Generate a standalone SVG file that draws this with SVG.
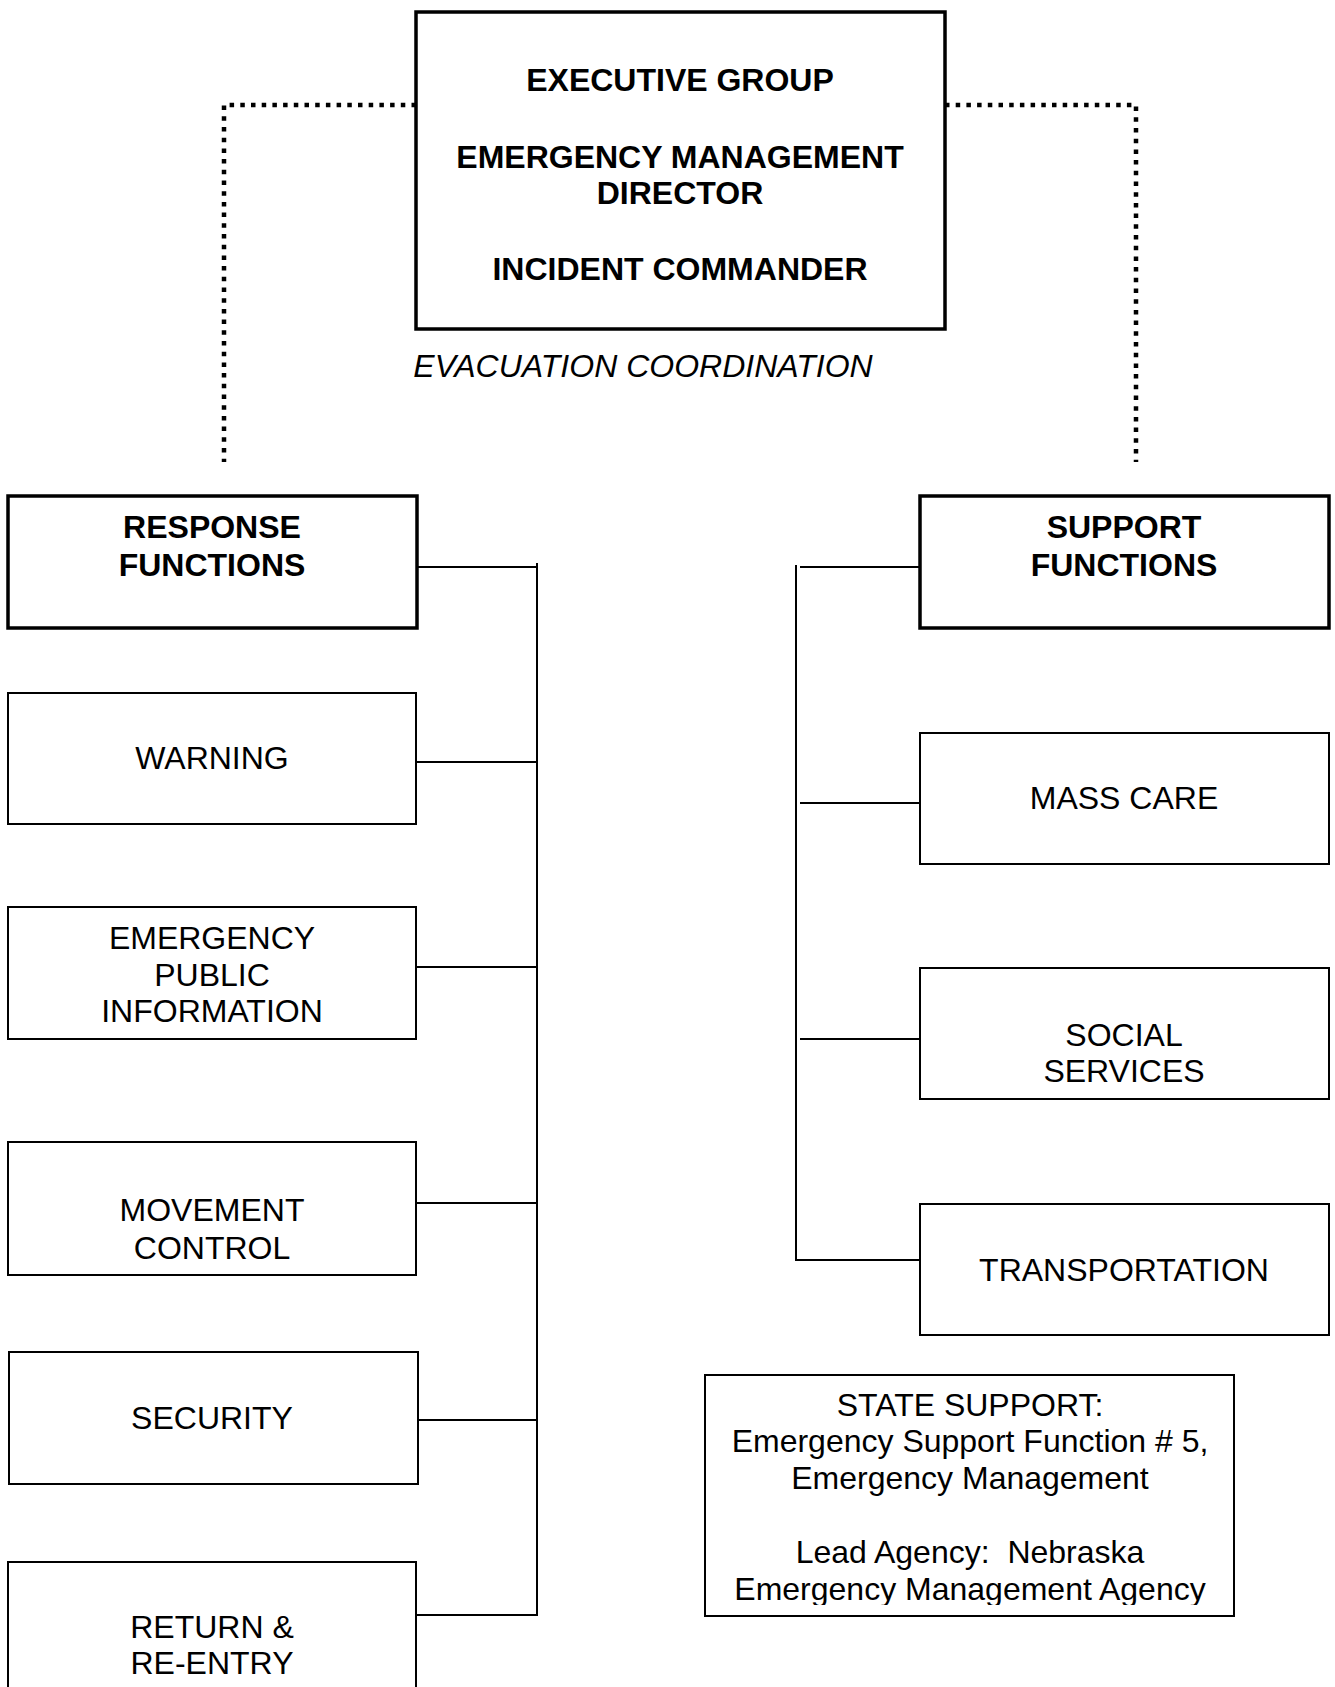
<svg xmlns="http://www.w3.org/2000/svg" width="1335" height="1687" viewBox="0 0 1335 1687">
  <style>
    text { font-family: "Liberation Sans", Arial, sans-serif; font-size: 32px; fill: #000; text-anchor: middle; white-space: pre; }
    .b { font-weight: bold; }
    .i { font-style: italic; }
    .head { fill: #fff; stroke: #000; stroke-width: 3.5; }
    .box { fill: #fff; stroke: #000; stroke-width: 2; }
    .link { fill: none; stroke: #000; stroke-width: 2; }
    .dot { fill: none; stroke: #000; stroke-width: 4.5; stroke-dasharray: 4.5 6.2; }
  </style>
  <defs>
    <clipPath id="stateClip">
      <rect x="700" y="1370" width="540" height="235"/>
    </clipPath>
  </defs>
  <rect width="1335" height="1687" fill="#fff"/>

  <!-- connectors -->
  <g id="connectors">
    <path class="dot" d="M416,105 H224 V462"/>
    <path class="dot" d="M945,105 H1136 V462"/>
    <!-- response branch -->
    <line class="link" x1="537" y1="563" x2="537" y2="1616"/>
    <line class="link" x1="417" y1="567" x2="537" y2="567"/>
    <line class="link" x1="416" y1="762" x2="537" y2="762"/>
    <line class="link" x1="416" y1="967" x2="537" y2="967"/>
    <line class="link" x1="416" y1="1203" x2="537" y2="1203"/>
    <line class="link" x1="418" y1="1420" x2="537" y2="1420"/>
    <line class="link" x1="416" y1="1615" x2="538" y2="1615"/>
    <!-- support branch -->
    <line class="link" x1="796" y1="565" x2="796" y2="1261"/>
    <line class="link" x1="800" y1="567" x2="920" y2="567"/>
    <line class="link" x1="800" y1="803" x2="920" y2="803"/>
    <line class="link" x1="800" y1="1039" x2="920" y2="1039"/>
    <line class="link" x1="795" y1="1260" x2="920" y2="1260"/>
  </g>

  <g id="executive">
    <rect class="head" x="416" y="12" width="529" height="317"/>
    <text class="b" x="680" y="91">EXECUTIVE GROUP</text>
    <text class="b" x="680" y="168">EMERGENCY MANAGEMENT</text>
    <text class="b" x="680" y="204">DIRECTOR</text>
    <text class="b" x="680" y="280">INCIDENT COMMANDER</text>
  </g>

  <g id="evacuation-label">
    <text class="i" x="643" y="377">EVACUATION COORDINATION</text>
  </g>

  <g id="response-functions">
    <rect class="head" x="8" y="496" width="409" height="132"/>
    <text class="b" x="212" y="538">RESPONSE</text>
    <text class="b" x="212" y="576">FUNCTIONS</text>
  </g>

  <g id="warning">
    <rect class="box" x="8" y="693" width="408" height="131"/>
    <text x="212" y="769">WARNING</text>
  </g>

  <g id="public-information">
    <rect class="box" x="8" y="907" width="408" height="132"/>
    <text x="212" y="949">EMERGENCY</text>
    <text x="212" y="986">PUBLIC</text>
    <text x="212" y="1022">INFORMATION</text>
  </g>

  <g id="movement-control">
    <rect class="box" x="8" y="1142" width="408" height="133"/>
    <text x="212" y="1221">MOVEMENT</text>
    <text x="212" y="1259">CONTROL</text>
  </g>

  <g id="security">
    <rect class="box" x="9" y="1352" width="409" height="132"/>
    <text x="212" y="1429">SECURITY</text>
  </g>

  <g id="return-reentry">
    <rect class="box" x="8" y="1562" width="408" height="140"/>
    <text x="212" y="1638">RETURN &amp;</text>
    <text x="212" y="1674">RE-ENTRY</text>
  </g>

  <g id="support-functions">
    <rect class="head" x="920" y="496" width="409" height="132"/>
    <text class="b" x="1124" y="538">SUPPORT</text>
    <text class="b" x="1124" y="576">FUNCTIONS</text>
  </g>

  <g id="mass-care">
    <rect class="box" x="920" y="733" width="409" height="131"/>
    <text x="1124" y="809">MASS CARE</text>
  </g>

  <g id="social-services">
    <rect class="box" x="920" y="968" width="409" height="131"/>
    <text x="1124" y="1046">SOCIAL</text>
    <text x="1124" y="1082">SERVICES</text>
  </g>

  <g id="transportation">
    <rect class="box" x="920" y="1204" width="409" height="131"/>
    <text x="1124" y="1281">TRANSPORTATION</text>
  </g>

  <g id="state-support">
    <rect class="box" x="705" y="1375" width="529" height="241"/>
    <g clip-path="url(#stateClip)">
      <text x="970" y="1416">STATE SUPPORT:</text>
      <text x="970" y="1452">Emergency Support Function # 5,</text>
      <text x="970" y="1489">Emergency Management</text>
      <text x="970" y="1563" xml:space="preserve">Lead Agency:  Nebraska</text>
      <text x="970" y="1600">Emergency Management Agency</text>
    </g>
  </g>
</svg>
